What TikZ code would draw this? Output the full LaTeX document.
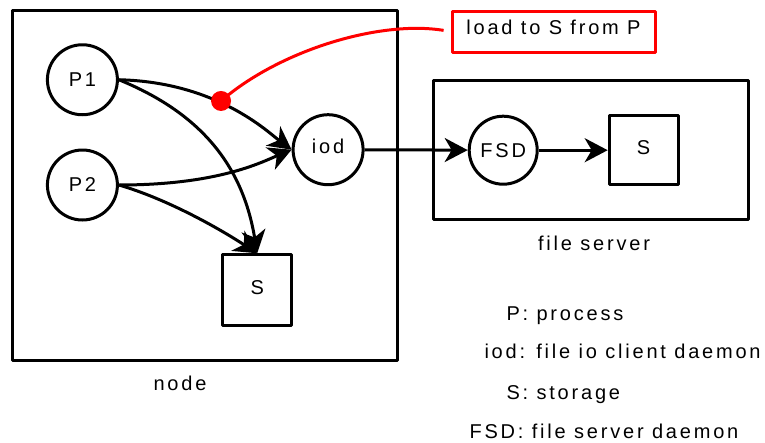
\documentclass[tikz,border=0pt]{standalone}
\usepackage{fontspec}
\setmainfont{Liberation Sans}[LetterSpace=14]
\usetikzlibrary{arrows.meta}
\begin{document}
\begin{tikzpicture}[x=1pt, y=-1pt, line width=3pt, line join=round,
  every node/.style={font=\fontsize{20}{24}\selectfont, inner sep=0pt},
  proc/.style={draw, circle, minimum size=70pt},
  store/.style={draw, rectangle, minimum width=69pt, minimum height=71pt},
  frame/.style={draw, rectangle},
  flow/.style={-{Stealth[length=23pt, width=24pt, inset=7pt]}},
  raised/.style={text depth=6pt},
  legendtext/.style={anchor=base},
  calloutbox/.style={draw=red, rectangle, minimum width=203pt, minimum height=41pt, text depth=8pt}]
\useasboundingbox (0,0) rectangle (765,442);

% machine boundaries
\node[frame, minimum width=384.5pt, minimum height=349.7pt] (host) at (204.75,185.15) {};
\node[frame, minimum width=314.7pt, minimum height=139pt] (server) at (591.3,150.2) {};

% processes, daemons and storage
\node[proc] (P1) at (82.4,79.75) {P1};
\node[proc] (P2) at (82.4,185) {P2};
\node[proc, raised] (iod) at (328.1,149.7) {iod};
\node[store, raised] (S) at (257.2,290.3) {S};
\node[proc, minimum size=68pt] (FSD) at (503.2,150.2) {FSD};
\node[store, minimum width=68.8pt, minimum height=69pt, raised] (FS) at (643.6,150.2) {S};

% captions
\node[legendtext] (hostname) at (180,390) {node};
\node[legendtext] (servername) at (594,250) {file server};

% legend
\node[legendtext, anchor=base west] (keyP) at (505,320) {P: process};
\node[legendtext, anchor=base west] (keyiod) at (483,358) {iod: file io client daemon};
\node[legendtext, anchor=base west] (keyS) at (505,399) {S: storage};
\node[legendtext, anchor=base west] (keyFSD) at (468,438) {FSD: file server daemon};

% data flow
\draw[flow] (P1.east) .. controls (217,82) and (268.5,132.6) .. (iod.west) coordinate[pos=0.43] (hit);
\draw[flow] (P1.east) .. controls (201.5,113.4) and (242.8,166.2) .. (S.north);
\draw[flow] (P2.east) .. controls (217.4,185) and (260.4,162.7) .. (iod.west);
\draw[flow] (P2.east) .. controls (165.4,198.5) and (216,226.5) .. (S.north);
\draw[flow] (iod) -- (FSD);
\draw[flow] (FSD) -- (FS);

% annotation
\node[calloutbox] (note) at (553.5,31.5) {load to S from P};
\coordinate (pin) at ([yshift=2pt]hit);
\draw[red, shorten >=7pt] (pin) .. controls (280,50) and (380,20) .. (note.west);
\node[fill=red, circle, minimum size=20pt] (dot) at (pin) {};
\end{tikzpicture}
\end{document}
